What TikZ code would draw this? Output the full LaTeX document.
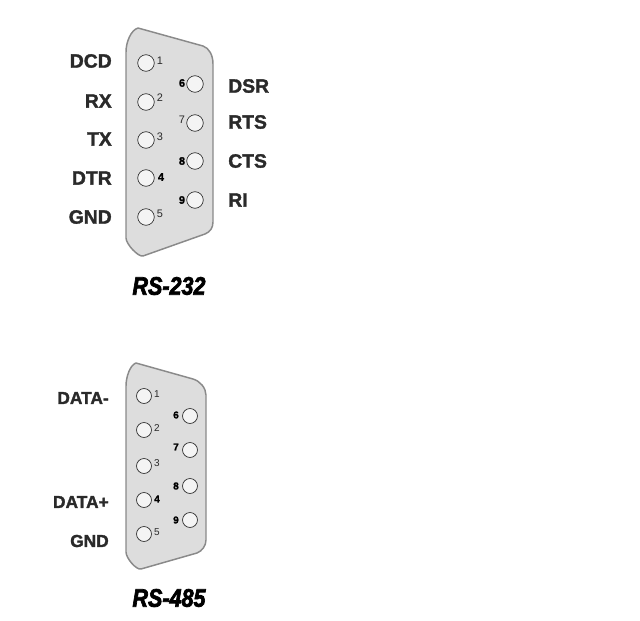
\documentclass[tikz,border=0pt]{standalone}
\usepackage{fontspec}
\setmainfont{Liberation Sans}[BoldFeatures={FakeBold=1.6}]
\newfontfamily\capfont{Liberation Sans}[BoldItalicFeatures={FakeBold=3}]
\definecolor{shellfill}{HTML}{DDDDDD}
\definecolor{shelledge}{HTML}{8A8A8A}
\definecolor{inkc}{HTML}{2A2A2A}
\definecolor{holefill}{HTML}{F4F4F4}
\tikzset{
  shell/.style={fill=shellfill,draw=shelledge,line width=1.1pt,line join=round},
  pinhole/.style={circle,draw=inkc,fill=holefill,line width=0.5pt,minimum size=12.4pt,inner sep=0pt},
  pinholesm/.style={circle,draw=inkc,fill=holefill,line width=0.5pt,minimum size=11.2pt,inner sep=0pt},
  pinnum/.style={font=\fontsize{8.2}{9}\selectfont,text=inkc,inner sep=0pt},
  pinnumb/.style={font=\fontsize{8.2}{9}\selectfont\bfseries,text=black,inner sep=0pt},
  pinnumsm/.style={font=\fontsize{7.5}{8}\selectfont,text=inkc,inner sep=0pt},
  pinnumsmb/.style={font=\fontsize{7.5}{8}\selectfont\bfseries,text=black,inner sep=0pt},
  siglabelL/.style={font=\fontsize{14.5}{16}\selectfont\bfseries,text=inkc,anchor=east,inner sep=0pt},
  siglabelR/.style={font=\fontsize{14.5}{16}\selectfont\bfseries,text=inkc,anchor=west,inner sep=0pt},
  siglabelS/.style={font=\fontsize{13}{15}\selectfont\bfseries,text=inkc,anchor=east,inner sep=0pt},
  caption/.style={font=\capfont\fontsize{19}{21}\selectfont\bfseries\itshape,text=black,xscale=0.85,inner sep=0pt},
}
\begin{document}
\begin{tikzpicture}[x=0.75pt,y=-0.75pt]
\useasboundingbox (0,0) rectangle (640,621);
% RS-232 shell
\draw[shell] (126,52) .. controls (126,42) and (131,30) .. (138,28)
  -- (203,46) .. controls (209,48) and (213,55) .. (213,64)
  -- (213,222) .. controls (213,228) and (210,232) .. (205,234)
  -- (143,256) .. controls (138,257) and (126,244) .. (126,238) -- cycle;
\node[pinhole] (a1) at (146,63) {};
\node[pinhole] (a2) at (146,102) {};
\node[pinhole] (a3) at (146,140) {};
\node[pinhole] (a4) at (146,178) {};
\node[pinhole] (a5) at (146,217) {};
\node[pinhole] (a6) at (195,84) {};
\node[pinhole] (a7) at (195,123) {};
\node[pinhole] (a8) at (195,161) {};
\node[pinhole] (a9) at (195,200) {};
\node[pinnum] (an1) at (160,61) {1};
\node[pinnum] (an2) at (160,98) {2};
\node[pinnum] (an3) at (160,137) {3};
\node[pinnumb] (an4) at (161,177) {4};
\node[pinnum] (an5) at (160,214) {5};
\node[pinnumb] (an6) at (182,83) {6};
\node[pinnum] (an7) at (182,120) {7};
\node[pinnumb] (an8) at (182,161) {8};
\node[pinnumb] (an9) at (182,200) {9};
\node[siglabelL] (dcd) at (112,61) {DCD};
\node[siglabelL] (rx) at (112,101) {RX};
\node[siglabelL] (tx) at (112,139) {TX};
\node[siglabelL] (dtr) at (112,178) {DTR};
\node[siglabelL] (gnd) at (112,217) {GND};
\node[siglabelR] (dsr) at (228,86) {DSR};
\node[siglabelR] (rts) at (228,122) {RTS};
\node[siglabelR] (cts) at (228,161) {CTS};
\node[siglabelR] (ri) at (228,200) {RI};
\node[caption] (cap232) at (169,286) {RS-232};
% RS-485 shell
\draw[shell] (126,386) .. controls (126,377) and (130,365) .. (136,363)
  -- (193,379) .. controls (200,381) and (206,388) .. (206,395)
  -- (206,540) .. controls (206,546) and (202,551) .. (197,553)
  -- (141,569) .. controls (136,570) and (126,558) .. (126,552) -- cycle;
\node[pinholesm] (b1) at (144,396) {};
\node[pinholesm] (b2) at (144,430) {};
\node[pinholesm] (b3) at (144,466) {};
\node[pinholesm] (b4) at (144,500) {};
\node[pinholesm] (b5) at (144,534) {};
\node[pinholesm] (b6) at (190,416) {};
\node[pinholesm] (b7) at (190,450) {};
\node[pinholesm] (b8) at (190,486) {};
\node[pinholesm] (b9) at (190,520) {};
\node[pinnumsm] (bn1) at (157,394) {1};
\node[pinnumsm] (bn2) at (157,428) {2};
\node[pinnumsm] (bn3) at (157,463) {3};
\node[pinnumsmb] (bn4) at (157,499) {4};
\node[pinnumsm] (bn5) at (157,532) {5};
\node[pinnumsmb] (bn6) at (176,415) {6};
\node[pinnumsmb] (bn7) at (176,447) {7};
\node[pinnumsmb] (bn8) at (176,486) {8};
\node[pinnumsmb] (bn9) at (176,520) {9};
\node[siglabelS] (dm) at (109,398) {DATA-};
\node[siglabelS] (dp) at (109,502) {DATA+};
\node[siglabelS] (g2) at (109,541) {GND};
\node[caption] (cap485) at (169,598) {RS-485};
\end{tikzpicture}
\end{document}
